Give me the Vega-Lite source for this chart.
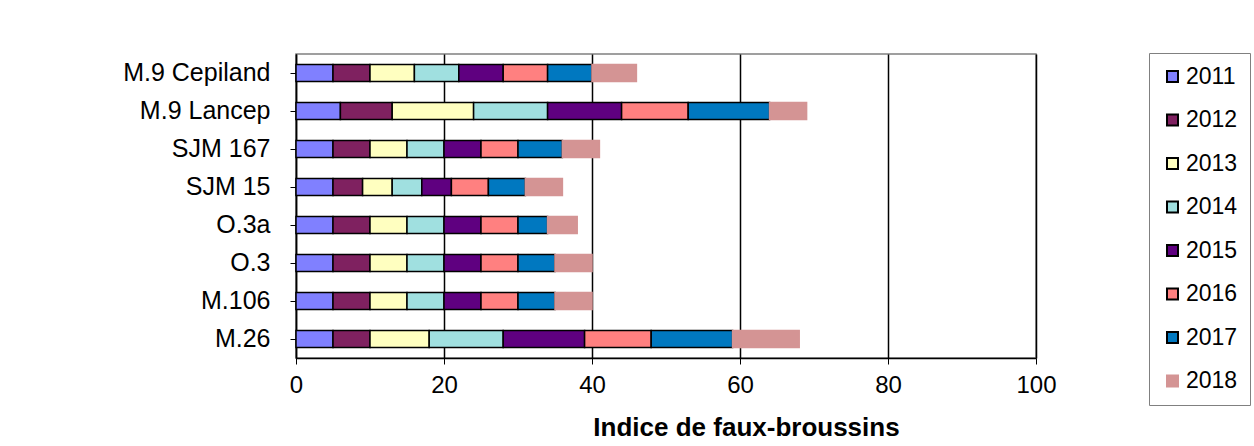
{
  "$schema": "https://vega.github.io/schema/vega-lite/v6.json",
  "width": 740,
  "height": 304,
  "autosize": {"type": "none"},
  "padding": {"left": 296, "top": 54, "right": 218, "bottom": 88},
  "background": "white",
  "config": {
    "font": "Liberation Sans",
    "view": {"stroke": "#808080", "strokeWidth": 1.5}
  },
  "data": {
    "values": [
      {"porte": "M.9 Cepiland", "annee": "2011", "indice": 5},
      {"porte": "M.9 Cepiland", "annee": "2012", "indice": 5},
      {"porte": "M.9 Cepiland", "annee": "2013", "indice": 6},
      {"porte": "M.9 Cepiland", "annee": "2014", "indice": 6},
      {"porte": "M.9 Cepiland", "annee": "2015", "indice": 6},
      {"porte": "M.9 Cepiland", "annee": "2016", "indice": 6},
      {"porte": "M.9 Cepiland", "annee": "2017", "indice": 6},
      {"porte": "M.9 Cepiland", "annee": "2018", "indice": 6},
      {"porte": "M.9 Lancep", "annee": "2011", "indice": 6},
      {"porte": "M.9 Lancep", "annee": "2012", "indice": 7},
      {"porte": "M.9 Lancep", "annee": "2013", "indice": 11},
      {"porte": "M.9 Lancep", "annee": "2014", "indice": 10},
      {"porte": "M.9 Lancep", "annee": "2015", "indice": 10},
      {"porte": "M.9 Lancep", "annee": "2016", "indice": 9},
      {"porte": "M.9 Lancep", "annee": "2017", "indice": 11},
      {"porte": "M.9 Lancep", "annee": "2018", "indice": 5},
      {"porte": "SJM 167", "annee": "2011", "indice": 5},
      {"porte": "SJM 167", "annee": "2012", "indice": 5},
      {"porte": "SJM 167", "annee": "2013", "indice": 5},
      {"porte": "SJM 167", "annee": "2014", "indice": 5},
      {"porte": "SJM 167", "annee": "2015", "indice": 5},
      {"porte": "SJM 167", "annee": "2016", "indice": 5},
      {"porte": "SJM 167", "annee": "2017", "indice": 6},
      {"porte": "SJM 167", "annee": "2018", "indice": 5},
      {"porte": "SJM 15", "annee": "2011", "indice": 5},
      {"porte": "SJM 15", "annee": "2012", "indice": 4},
      {"porte": "SJM 15", "annee": "2013", "indice": 4},
      {"porte": "SJM 15", "annee": "2014", "indice": 4},
      {"porte": "SJM 15", "annee": "2015", "indice": 4},
      {"porte": "SJM 15", "annee": "2016", "indice": 5},
      {"porte": "SJM 15", "annee": "2017", "indice": 5},
      {"porte": "SJM 15", "annee": "2018", "indice": 5},
      {"porte": "O.3a", "annee": "2011", "indice": 5},
      {"porte": "O.3a", "annee": "2012", "indice": 5},
      {"porte": "O.3a", "annee": "2013", "indice": 5},
      {"porte": "O.3a", "annee": "2014", "indice": 5},
      {"porte": "O.3a", "annee": "2015", "indice": 5},
      {"porte": "O.3a", "annee": "2016", "indice": 5},
      {"porte": "O.3a", "annee": "2017", "indice": 4},
      {"porte": "O.3a", "annee": "2018", "indice": 4},
      {"porte": "O.3", "annee": "2011", "indice": 5},
      {"porte": "O.3", "annee": "2012", "indice": 5},
      {"porte": "O.3", "annee": "2013", "indice": 5},
      {"porte": "O.3", "annee": "2014", "indice": 5},
      {"porte": "O.3", "annee": "2015", "indice": 5},
      {"porte": "O.3", "annee": "2016", "indice": 5},
      {"porte": "O.3", "annee": "2017", "indice": 5},
      {"porte": "O.3", "annee": "2018", "indice": 5},
      {"porte": "M.106", "annee": "2011", "indice": 5},
      {"porte": "M.106", "annee": "2012", "indice": 5},
      {"porte": "M.106", "annee": "2013", "indice": 5},
      {"porte": "M.106", "annee": "2014", "indice": 5},
      {"porte": "M.106", "annee": "2015", "indice": 5},
      {"porte": "M.106", "annee": "2016", "indice": 5},
      {"porte": "M.106", "annee": "2017", "indice": 5},
      {"porte": "M.106", "annee": "2018", "indice": 5},
      {"porte": "M.26", "annee": "2011", "indice": 5},
      {"porte": "M.26", "annee": "2012", "indice": 5},
      {"porte": "M.26", "annee": "2013", "indice": 8},
      {"porte": "M.26", "annee": "2014", "indice": 10},
      {"porte": "M.26", "annee": "2015", "indice": 11},
      {"porte": "M.26", "annee": "2016", "indice": 9},
      {"porte": "M.26", "annee": "2017", "indice": 11},
      {"porte": "M.26", "annee": "2018", "indice": 9}
    ]
  },
  "mark": {"type": "bar", "size": 17, "strokeWidth": 1.5},
  "encoding": {
    "y": {
      "field": "porte",
      "type": "nominal",
      "sort": ["M.9 Cepiland", "M.9 Lancep", "SJM 167", "SJM 15", "O.3a", "O.3", "M.106", "M.26"],
      "axis": {
        "title": null,
        "labelFontSize": 25,
        "labelColor": "black",
        "labelPadding": 20,
        "domainColor": "black",
        "domainWidth": 1.5,
        "tickColor": "black",
        "tickSize": 6,
        "labelLimit": 300
      }
    },
    "x": {
      "field": "indice",
      "type": "quantitative",
      "stack": "zero",
      "scale": {"domain": [0, 100], "nice": false},
      "axis": {
        "title": "Indice de faux-broussins",
        "titleFontSize": 26,
        "titleFontWeight": "bold",
        "titleColor": "black",
        "titlePadding": 17,
        "titleX": 450,
        "titleAlign": "center",
        "values": [0, 20, 40, 60, 80, 100],
        "labelFlush": false,
        "labelFontSize": 24,
        "labelColor": "black",
        "labelPadding": 9,
        "domainColor": "black",
        "domainWidth": 1.5,
        "tickColor": "black",
        "tickSize": 6,
        "gridColor": "black",
        "gridWidth": 1.5,
        "gridOpacity": 1
      }
    },
    "fill": {
      "field": "annee",
      "type": "nominal",
      "scale": {
        "domain": ["2011", "2012", "2013", "2014", "2015", "2016", "2017", "2018"],
        "range": ["#8080FF", "#7F2160", "#FFFFC0", "#A0E0E0", "#5F0080", "#FF8080", "#0078C0", "#D49494"]
      },
      "legend": {
        "title": null,
        "orient": "none",
        "legendX": 853,
        "legendY": -1,
        "labelFontSize": 23,
        "labelColor": "black",
        "labelOffset": 2,
        "labelExpr": "datum.label + '\u00a0'",
        "symbolType": "square",
        "symbolSize": 121,
        "symbolStrokeWidth": 2,
        "symbolOpacity": 1,
        "rowPadding": 19.5,
        "padding": 12,
        "fillColor": "white",
        "strokeColor": "#808080"
      }
    },
    "stroke": {
      "field": "annee",
      "type": "nominal",
      "scale": {
        "domain": ["2011", "2012", "2013", "2014", "2015", "2016", "2017", "2018"],
        "range": ["black", "black", "black", "black", "black", "black", "black", "#D49494"]
      },
      "legend": {
        "title": null,
        "orient": "none",
        "legendX": 853,
        "legendY": -1,
        "labelFontSize": 23,
        "labelColor": "black",
        "labelOffset": 2,
        "labelExpr": "datum.label + '\u00a0'",
        "symbolType": "square",
        "symbolSize": 121,
        "symbolStrokeWidth": 2,
        "symbolOpacity": 1,
        "rowPadding": 19.5,
        "padding": 12,
        "fillColor": "white",
        "strokeColor": "#808080"
      }
    },
    "order": {"field": "annee", "type": "ordinal", "sort": "ascending"}
  }
}
